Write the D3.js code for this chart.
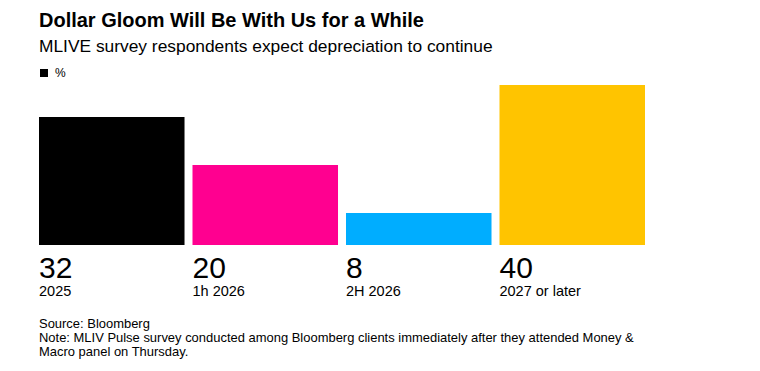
<!DOCTYPE html>
<html>
<head>
<meta charset="utf-8">
<script src="https://cdn.jsdelivr.net/npm/d3@7"></script>
<style>
  html, body { margin: 0; padding: 0; background: #fff; }
  svg { display: block; font-family: "Liberation Sans", Arial, Helvetica, sans-serif; }
</style>
</head>
<body>
<svg id="chart" width="760" height="371"></svg>
<script>
const categories = ["2025", "1h 2026", "2H 2026", "2027 or later"];
const values = [32, 20, 8, 40];
const colors = ["#000000", "#ff0090", "#00adff", "#ffc400"];
const title = "Dollar Gloom Will Be With Us for a While";
const subtitle = "MLIVE survey respondents expect depreciation to continue";
const legendLabel = "%";
const footer = [
  "Source: Bloomberg",
  "Note: MLIV Pulse survey conducted among Bloomberg clients immediately after they attended Money &",
  "Macro panel on Thursday."
];

const svg = d3.select("#chart");

function fitText(sel, target) {
  const node = sel.node();
  const w = node.getComputedTextLength();
  const fs = parseFloat(sel.attr("font-size"));
  sel.attr("font-size", (fs * target / w).toFixed(2));
}

const t = svg.append("text").attr("x", 39).attr("y", 27)
  .attr("font-size", 18).attr("font-weight", "bold").attr("fill", "#000").text(title);
fitText(t, 385);

const st = svg.append("text").attr("x", 39).attr("y", 52)
  .attr("font-size", 15).attr("fill", "#000").text(subtitle);
fitText(st, 454);

svg.append("rect").attr("x", 40).attr("y", 69).attr("width", 8).attr("height", 8).attr("fill", "#000");
svg.append("text").attr("x", 55).attr("y", 77).attr("font-size", 12).attr("fill", "#000").text(legendLabel);

const x = d3.scaleBand().domain(categories).range([39, 645]).paddingInner(0.052).paddingOuter(0);
const y = d3.scaleLinear().domain([0, 40]).range([245, 85]);

const data = categories.map((c, i) => ({ c, v: values[i], col: colors[i] }));

svg.append("g").selectAll("rect").data(data).join("rect")
  .attr("x", d => x(d.c))
  .attr("y", d => y(d.v))
  .attr("width", x.bandwidth())
  .attr("height", d => y(0) - y(d.v))
  .attr("fill", d => d.col);

svg.append("g").selectAll("text").data(data).join("text")
  .attr("x", d => x(d.c))
  .attr("y", 277.5)
  .attr("font-size", 30)
  .attr("fill", "#000")
  .text(d => d.v);

svg.append("g").selectAll("text").data(data).join("text")
  .attr("x", d => x(d.c))
  .attr("y", 295.5)
  .attr("font-size", 14.5)
  .attr("fill", "#000")
  .text(d => d.c);

const ft = svg.append("g").selectAll("text").data(footer).join("text")
  .attr("x", 39)
  .attr("y", (d, i) => 328 + i * 14)
  .attr("font-size", 12)
  .attr("fill", "#000")
  .text(d => d);
fitText(d3.select(ft.nodes()[1]), 595);
const fs2 = d3.select(ft.nodes()[1]).attr("font-size");
ft.attr("font-size", fs2);
</script>
</body>
</html>
